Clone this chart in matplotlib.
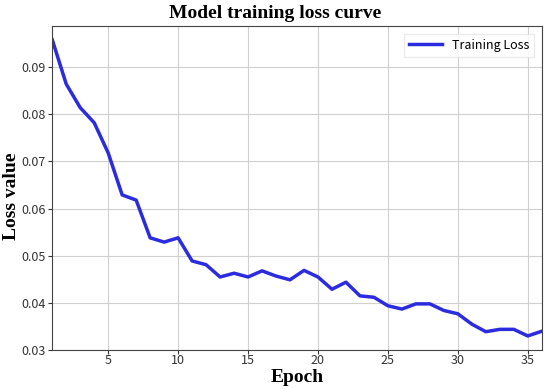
import matplotlib
matplotlib.use('Agg')
import matplotlib.pyplot as plt

# training loss per epoch
epochs = list(range(1, 37))
loss = [0.0958, 0.0864, 0.0814, 0.0782, 0.0718, 0.0629, 0.0618, 0.0538, 0.0529, 0.0538,
        0.0489, 0.0481, 0.0455, 0.0463, 0.0455, 0.0468, 0.0457, 0.0449, 0.0469, 0.0455,
        0.0429, 0.0444, 0.0415, 0.0412, 0.0394, 0.0387, 0.0398, 0.0398, 0.0384, 0.0377,
        0.0355, 0.0339, 0.0344, 0.0344, 0.0330, 0.0340]
xticks = [5, 10, 15, 20, 25, 30, 35]
yticks = [0.03, 0.04, 0.05, 0.06, 0.07, 0.08, 0.09]

plt.rcParams['font.family'] = ['Noto Sans CJK SC', 'DejaVu Sans']

fig = plt.figure(figsize=(5.5, 3.89), dpi=100)
ax = fig.add_axes([0.095, 0.10, 0.89, 0.833])

ax.plot(epochs, loss, color='#2b2be0', linewidth=2.5, label='Training Loss')
ax.set_xlim(1, 36)
ax.set_ylim(0.03, 0.0987)
ax.set_xticks(xticks)
ax.set_yticks(yticks)
ax.set_yticklabels(['%.2f' % v for v in yticks])
ax.tick_params(labelsize=9, colors='#333333', length=3, pad=2)
ax.tick_params(axis='x', pad=0)
ax.grid(color='#d0d0d0', linewidth=0.8)
for s in ax.spines.values():
    s.set_color('#444444')

tfont = dict(family='Liberation Serif', weight='bold', size=14)
fig.suptitle('Model training loss curve', x=0.5, y=0.988, va='top', **tfont)
ax.set_xlabel('Epoch', fontdict=tfont)
ax.set_ylabel('Loss value', fontdict=tfont)
ax.xaxis.set_label_coords(0.5, -0.058)
ax.yaxis.set_label_coords(-0.066, 0.475)

leg = ax.legend(loc='upper right', fontsize=9, frameon=True, fancybox=False,
                handlelength=2.6, borderaxespad=0.6)
leg.get_frame().set_edgecolor('#e6e6e6')

fig.savefig('out.png', dpi=100)
